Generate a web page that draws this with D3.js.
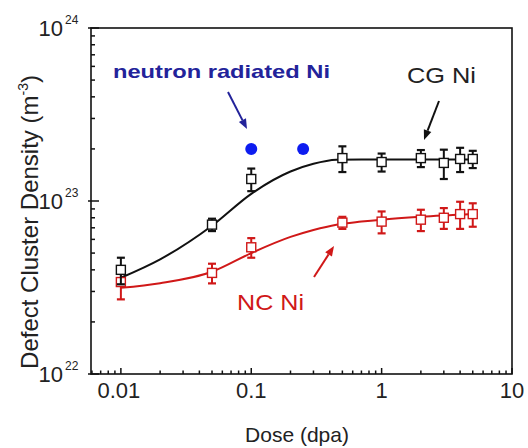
<!DOCTYPE html>
<html>
<head>
<meta charset="utf-8">
<script src="https://cdn.jsdelivr.net/npm/d3@7"></script>
<style>
  html, body { margin: 0; padding: 0; background: #fff; }
  svg { display: block; font-family: "Liberation Sans", Arial, sans-serif; }
</style>
</head>
<body>
<svg id="chart" width="528" height="448"></svg>
<script>
// Dose levels (dpa) shared by both grain sizes
const doses = [0.01, 0.05, 0.1, 0.5, 1, 2, 3, 4, 5];

// Coarse-grained Ni: cluster density (m^-3) and +/- error
const cgDensity = [4.0e22, 7.3e22, 1.34e23, 1.77e23, 1.68e23, 1.77e23, 1.66e23, 1.75e23, 1.75e23];
const cgError   = [0.7e22, 0.6e22, 0.2e23, 0.3e23, 0.2e23, 0.2e23, 0.32e23, 0.28e23, 0.2e23];

// Nanocrystalline Ni: cluster density (m^-3) and +/- error
const ncDensity = [3.4e22, 3.84e22, 5.4e22, 7.5e22, 7.6e22, 7.8e22, 8.0e22, 8.4e22, 8.4e22];
const ncError   = [0.7e22, 0.5e22, 0.7e22, 0.6e22, 1.1e22, 1.1e22, 1.1e22, 1.5e22, 1.3e22];

// Fitted trend curves
const fitDose = [0.01, 0.02, 0.05, 0.1, 0.2, 0.3, 0.45, 0.7, 1, 2, 5];
const fitCG   = [3.6e22, 4.6e22, 7.2e22, 1.1e23, 1.48e23, 1.64e23, 1.73e23, 1.74e23, 1.74e23, 1.74e23, 1.74e23];
const fitNC   = [3.15e22, 3.35e22, 3.9e22, 5.0e22, 6.2e22, 6.8e22, 7.3e22, 7.6e22, 7.8e22, 8.1e22, 8.4e22];

// Neutron-irradiated Ni reference points
const neutronDose    = [0.1, 0.25];
const neutronDensity = [2.0e23, 2.0e23];

// Axis tick labels
const xTickValues = [0.01, 0.1, 1, 10];
const xTickLabels = ["0.01", "0.1", "1", "10"];
const yTickValues = [1e22, 1e23, 1e24];
const yTickExponents = ["22", "23", "24"];

const svg = d3.select("#chart");
const plotLeft = 91, plotRight = 512, plotTop = 28, plotBottom = 374;

const x = d3.scaleLog().domain([0.0059, 10]).range([plotLeft, plotRight]);
const y = d3.scaleLog().domain([1e22, 1e24]).range([plotBottom, plotTop]);

const black = "#111", red = "#d01818", blue = "#0d1cf0", navy = "#23239a";

// Minor/major ticks, drawn inward
const xMinor = [];
[0.001, 0.01, 0.1, 1].forEach(d => { for (let k = 2; k <= 9; k++) { const v = d * k; if (v >= 0.0059 && v <= 10) xMinor.push(v); } });
const yMinor = [];
[1e22, 1e23].forEach(d => { for (let k = 2; k <= 9; k++) yMinor.push(d * k); });

const ticks = svg.append("g").attr("stroke", black).attr("stroke-width", 1.5);
ticks.selectAll(".xmin").data(xMinor).join("line")
  .attr("x1", d => x(d)).attr("x2", d => x(d)).attr("y1", plotBottom).attr("y2", plotBottom - 3.5);
ticks.selectAll(".xmaj").data(xTickValues).join("line")
  .attr("x1", d => x(d)).attr("x2", d => x(d)).attr("y1", plotBottom).attr("y2", plotBottom - 6);
ticks.selectAll(".ymin").data(yMinor).join("line")
  .attr("y1", d => y(d)).attr("y2", d => y(d)).attr("x1", plotLeft).attr("x2", plotLeft + 4);
ticks.selectAll(".ymaj").data(yTickValues).join("line")
  .attr("y1", d => y(d)).attr("y2", d => y(d)).attr("x1", plotLeft - 3).attr("x2", plotLeft + 8);

// Frame
svg.append("rect").attr("x", plotLeft).attr("y", plotTop)
  .attr("width", plotRight - plotLeft).attr("height", plotBottom - plotTop)
  .attr("fill", "none").attr("stroke", black).attr("stroke-width", 1.6);

// X tick labels
svg.append("g").selectAll("text").data(xTickValues).join("text")
  .attr("x", (d, i) => x(d) + (i === 0 ? -2 : 0)).attr("y", plotBottom + 24)
  .attr("text-anchor", "middle").attr("font-size", 22).attr("fill", "#222")
  .text((d, i) => xTickLabels[i]);

// Y tick labels 10^n
svg.append("g").selectAll("text").data(yTickValues).join("text")
  .attr("x", 63).attr("y", d => y(d) + 8)
  .attr("text-anchor", "end").attr("font-size", 22).attr("fill", "#222")
  .text("10");
svg.append("g").selectAll("text").data(yTickValues).join("text")
  .attr("x", 65).attr("y", d => y(d) - 4)
  .attr("font-size", 12).attr("fill", "#222")
  .text((d, i) => yTickExponents[i]);

// Axis titles
svg.append("text").attr("x", 297).attr("y", 442).attr("text-anchor", "middle")
  .attr("font-size", 21).attr("fill", "#222").text("Dose (dpa)");
const yt = svg.append("text").attr("transform", "translate(38,222) rotate(-90)")
  .attr("text-anchor", "middle").attr("font-size", 24).attr("fill", "#222");
yt.append("tspan").text("Defect Cluster Density (m");
yt.append("tspan").attr("font-size", 14).attr("dy", -10).text("-3");
yt.append("tspan").attr("dy", 10).text(")");

// Fit curves
const line = d3.line().x((d, i) => x(fitDose[i])).y(d => y(d)).curve(d3.curveMonotoneX);
svg.append("path").datum(fitCG).attr("d", line).attr("fill", "none").attr("stroke", black).attr("stroke-width", 2);
svg.append("path").datum(fitNC).attr("d", line).attr("fill", "none").attr("stroke", red).attr("stroke-width", 2);

// Error bars + open squares
function series(vals, errs, color) {
  const g = svg.append("g").attr("stroke", color);
  const pts = doses.map((d, i) => ({ d, v: vals[i], e: errs[i] }));
  g.selectAll(".bar").data(pts).join("line")
    .attr("x1", p => x(p.d)).attr("x2", p => x(p.d))
    .attr("y1", p => y(p.v + p.e)).attr("y2", p => y(p.v - p.e)).attr("stroke-width", 2);
  ["hi", "lo"].forEach(k => {
    g.selectAll(".cap" + k).data(pts).join("line")
      .attr("x1", p => x(p.d) - 4).attr("x2", p => x(p.d) + 4)
      .attr("y1", p => y(k === "hi" ? p.v + p.e : p.v - p.e))
      .attr("y2", p => y(k === "hi" ? p.v + p.e : p.v - p.e)).attr("stroke-width", 2.2);
  });
  g.selectAll("rect").data(pts).join("rect")
    .attr("x", p => x(p.d) - 4.5).attr("y", p => y(p.v) - 4.5)
    .attr("width", 9).attr("height", 9).attr("fill", "#fff").attr("stroke-width", 1.4);
}
series(ncDensity, ncError, red);
series(cgDensity, cgError, black);

// Neutron-irradiated points
svg.append("g").selectAll("circle").data(neutronDose).join("circle")
  .attr("cx", d => x(d)).attr("cy", (d, i) => y(neutronDensity[i])).attr("r", 6).attr("fill", blue);

// Annotations with arrows
function arrow(x1, y1, x2, y2, color) {
  const ang = Math.atan2(y2 - y1, x2 - x1), L = 10, W = 4;
  const bx = x2 - L * Math.cos(ang), by = y2 - L * Math.sin(ang);
  svg.append("line").attr("x1", x1).attr("y1", y1).attr("x2", bx).attr("y2", by)
    .attr("stroke", color).attr("stroke-width", 2);
  const px = -Math.sin(ang) * W, py = Math.cos(ang) * W;
  svg.append("path").attr("d", `M${x2},${y2}L${bx + px},${by + py}L${bx - px},${by - py}Z`).attr("fill", color);
}
svg.append("text").attr("x", 113).attr("y", 78).attr("font-size", 19).attr("font-weight", "bold")
  .attr("fill", navy).attr("textLength", 217).attr("lengthAdjust", "spacingAndGlyphs").text("neutron radiated Ni");
arrow(228, 92, 247, 129, navy);
svg.append("text").attr("x", 407).attr("y", 83).attr("font-size", 22)
  .attr("fill", "#222").attr("textLength", 69).attr("lengthAdjust", "spacingAndGlyphs").text("CG Ni");
arrow(439, 101, 424, 140, black);
svg.append("text").attr("x", 237).attr("y", 310).attr("font-size", 22)
  .attr("fill", red).attr("textLength", 67).attr("lengthAdjust", "spacingAndGlyphs").text("NC Ni");
arrow(314, 277, 334, 246, red);
</script>
</body>
</html>
